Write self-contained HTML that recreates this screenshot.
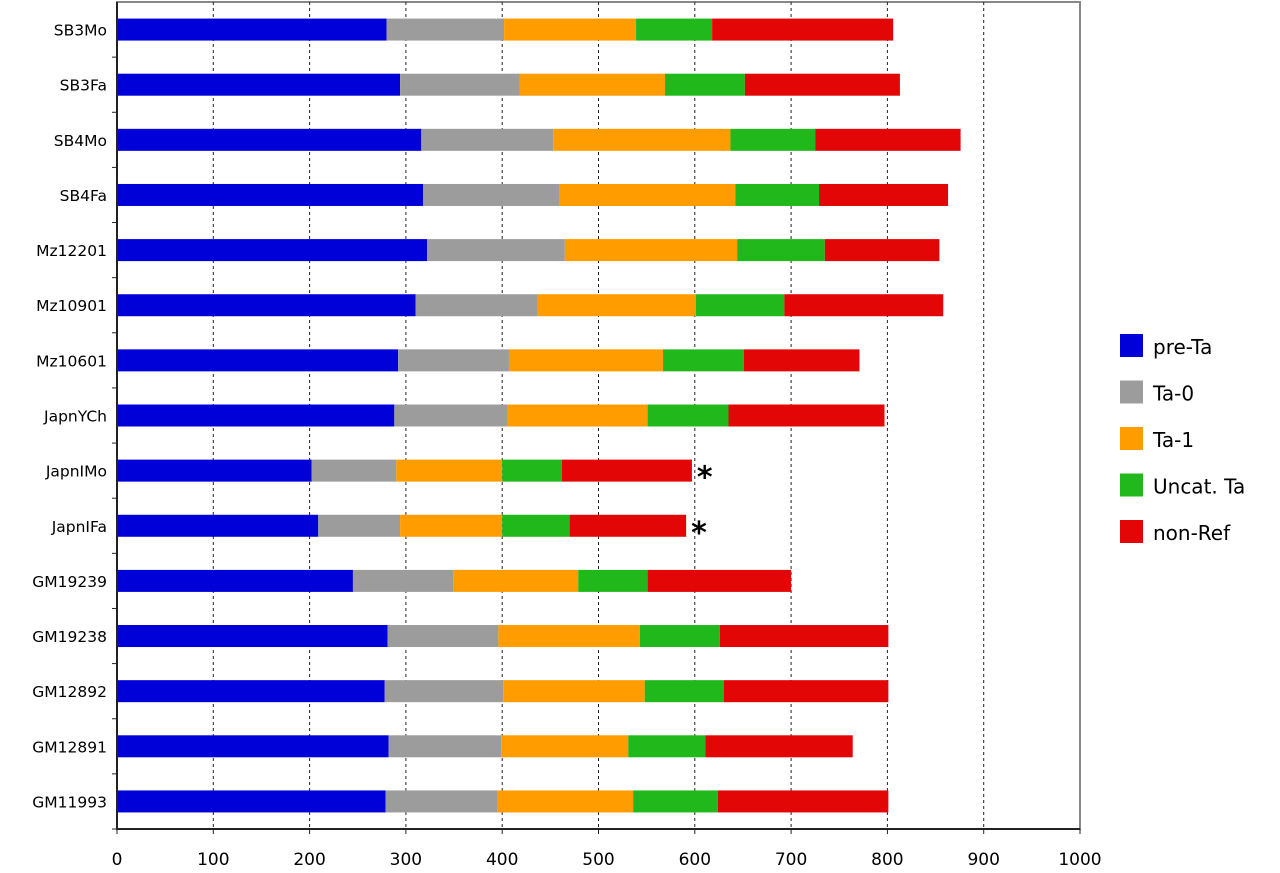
<!DOCTYPE html>
<html><head><meta charset="utf-8"><style>
body{margin:0;background:#fff;font-family:"DejaVu Sans","Liberation Sans",sans-serif}
</style></head><body>
<svg id="chart" width="1280" height="869" xmlns="http://www.w3.org/2000/svg" font-family="DejaVu Sans, Liberation Sans, sans-serif"></svg>
<script>
const categories=["SB3Mo","SB3Fa","SB4Mo","SB4Fa","Mz12201","Mz10901","Mz10601","JapnYCh","JapnIMo","JapnIFa","GM19239","GM19238","GM12892","GM12891","GM11993"];
const seriesNames=["pre-Ta","Ta-0","Ta-1","Uncat. Ta","non-Ref"];
const preTa=[280,294,316,318,322,310,292,288,202,209,245,281,278,282,279];
const ta0=[122,124,137,141,143,127,115,117,88,85,104,115,123,117,116];
const ta1=[137,151,184,183,179,164,160,146,110,106,130,147,147,132,141];
const uncatTa=[79,83,88,87,91,92,84,84,62,70,72,83,82,80,88];
const nonRef=[188,161,151,134,119,165,120,162,135,121,149,175,171,153,177];
const starred=["JapnIMo","JapnIFa"];
const xTicks=[0,100,200,300,400,500,600,700,800,900,1000];
const colors=["#0000d8","#9c9c9c","#ff9c00","#20b81a","#e20606"];
const series=[preTa,ta0,ta1,uncatTa,nonRef];
const L=117,R=1080,T=2,B=829;
const x=v=>L+(v/1000)*(R-L);
const rowH=(B-T)/categories.length;
const yc=i=>T+rowH*(i+0.5);
const svg=document.getElementById('chart');
const NS="http://www.w3.org/2000/svg";
function mk(tag,attrs,parent){const e=document.createElementNS(NS,tag);for(const k in attrs)e.setAttribute(k,attrs[k]);(parent||svg).appendChild(e);return e;}
let e=mk('rect',{x:L,y:T,width:R-L,height:B-T,fill:'none',stroke:'#888','stroke-width':2});


xTicks.forEach(t=>{
  if(t>0&&t<1000){const g=mk('line',{x1:x(t),x2:x(t),y1:T,y2:B,stroke:'#222','stroke-width':1,'stroke-dasharray':'3,3'});
  
  }
  const tk=mk('line',{x1:x(t),x2:x(t),y1:B,y2:B+5,stroke:'#222'});
  
  
  const tl=mk('text',{x:x(t),y:865,'text-anchor':'middle','font-size':17,fill:'#000'});
  tl.textContent=t;
  
  
});
categories.forEach((c,i)=>{
  let acc=0;
  series.forEach((s,k)=>{
    const r=mk('rect',{x:x(acc),y:yc(i)-11,width:x(acc+s[i])-x(acc),height:22,fill:colors[k]});
    
    
    acc+=s[i];
  });
  if(starred.includes(c)){const st=mk('text',{x:x(acc)+5,y:yc(i)+17,'font-size':30,'font-weight':'bold'});st.textContent='*';
    
    }
  const lb=mk('text',{x:107,y:yc(i)+6,'text-anchor':'end','font-size':15.5,fill:'#000'});
  lb.textContent=c;
  
  
  const tk=mk('line',{x1:L-5,x2:L,y1:T+rowH*(i+1),y2:T+rowH*(i+1),stroke:'#222'});
  
  
});
let ax=mk('line',{x1:L,x2:L,y1:T,y2:B,stroke:'#222','stroke-width':2});


ax=mk('line',{x1:L,x2:R,y1:B,y2:B,stroke:'#222','stroke-width':2});


seriesNames.forEach((n,k)=>{
  const y=334+k*46.5;
  const sw=mk('rect',{x:1120,y:y,width:23,height:23,fill:colors[k]});
  
  
  const t=mk('text',{x:1153,y:y+20,'font-size':20,fill:'#000'});
  t.textContent=n;
  
  
});
</script>
</body></html>
